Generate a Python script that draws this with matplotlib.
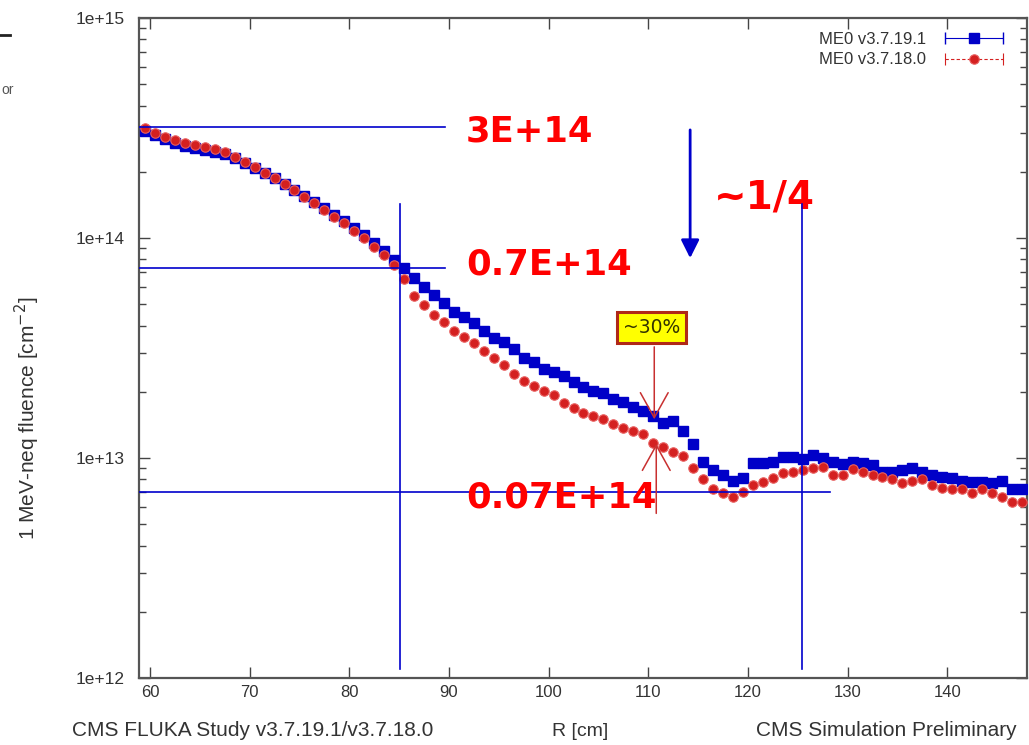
import numpy as np
import matplotlib.pyplot as plt
from matplotlib.ticker import LogLocator, NullFormatter, FixedLocator
from matplotlib.legend_handler import HandlerErrorbar
from matplotlib.container import ErrorbarContainer

plt.rcParams['font.family'] = ['Liberation Sans', 'DejaVu Sans']

# R bin centres [cm]
r_cm = np.arange(59.5, 148.0, 1.0)

# fluence in units of 1e13 cm^-2
me0_v19 = [30.6, 29.4, 28.2, 27.0, 26.2, 25.7, 25.1, 24.6, 24.1, 23.1,
           21.9, 20.8, 19.7, 18.7, 17.6, 16.5, 15.5, 14.6, 13.7, 12.7,
           11.9, 11.1, 10.3, 9.49, 8.73, 7.94, 7.30, 6.58, 5.99, 5.51,
           5.07, 4.61, 4.37, 4.11, 3.78, 3.51, 3.37, 3.13, 2.85, 2.73,
           2.54, 2.46, 2.36, 2.21, 2.10, 2.02, 1.97, 1.85, 1.80, 1.71,
           1.64, 1.55, 1.44, 1.47, 1.33, 1.16, 0.96, 0.88, 0.84, 0.79,
           0.81, 0.95, 0.95, 0.96, 1.01, 1.01, 0.99, 1.03, 1.00, 0.96,
           0.94, 0.96, 0.95, 0.93, 0.86, 0.86, 0.88, 0.90, 0.86, 0.84,
           0.82, 0.81, 0.79, 0.78, 0.78, 0.77, 0.79, 0.72, 0.72]

me0_v18 = [31.6, 30.0, 28.8, 27.9, 27.0, 26.5, 25.9, 25.4, 24.6, 23.3,
           22.2, 21.0, 19.7, 18.7, 17.6, 16.5, 15.4, 14.4, 13.4, 12.5,
           11.7, 10.8, 10.0, 9.10, 8.37, 7.54, 6.51, 5.45, 4.96, 4.47,
           4.15, 3.78, 3.55, 3.33, 3.06, 2.85, 2.65, 2.41, 2.24, 2.12,
           2.02, 1.93, 1.78, 1.69, 1.60, 1.55, 1.50, 1.43, 1.37, 1.33,
           1.29, 1.17, 1.12, 1.06, 1.02, 0.90, 0.80, 0.72, 0.69, 0.665,
           0.70, 0.75, 0.78, 0.81, 0.855, 0.86, 0.88, 0.90, 0.91, 0.84,
           0.84, 0.89, 0.86, 0.84, 0.82, 0.80, 0.77, 0.79, 0.80, 0.75,
           0.73, 0.72, 0.72, 0.69, 0.72, 0.69, 0.665, 0.63, 0.63]

labels = ['ME0 v3.7.19.1', 'ME0 v3.7.18.0']
bin_half = 0.5

y19 = np.array(me0_v19) * 1e13
y18 = np.array(me0_v18) * 1e13

blue = '#0000c8'
red = '#d42020'
anno_red = '#ff0000'
grey = '#333333'

fig = plt.figure(figsize=(10.29, 7.45), dpi=100)
ax = fig.add_axes([139 / 1029, 1 - 678 / 745, 888 / 1029, 660 / 745])

# gnuplot-style points with x error bars (bars hidden on the plot, kept for legend)
h1 = ax.errorbar(r_cm, y19, xerr=bin_half, fmt='s', ms=6.5, color=blue, mec=blue,
                 ecolor=blue, elinewidth=0.8, capsize=4, label=labels[0], zorder=3)
h2 = ax.errorbar(r_cm, y18, xerr=bin_half, fmt='o', ms=6.8, color=red, mec='#e86060',
                 mew=0.8, ecolor=red, elinewidth=0.8, capsize=4, label=labels[1], zorder=4)
h2[2][0].set_linestyle((0, (3, 2)))

leg = ax.legend(handles=[h1, h2], loc='upper right', frameon=False, markerfirst=False,
                fontsize=12, handlelength=3.7, borderaxespad=0.3, labelspacing=0.35,
                handletextpad=1.0, bbox_to_anchor=(0.988, 0.997),
                handler_map={ErrorbarContainer: HandlerErrorbar(xerr_size=1.75)})
for t in leg.get_texts():
    t.set_color(grey)

for h in (h1, h2):
    for c in h[1]:
        c.set_visible(False)
    for c in h[2]:
        c.set_visible(False)

ax.set_yscale('log')
ax.set_xlim(58.9, 148.0)
ax.set_ylim(1e12, 1e15)

ax.xaxis.set_major_locator(FixedLocator(np.arange(60, 141, 10)))
ax.yaxis.set_minor_locator(LogLocator(base=10, subs=np.arange(2, 10), numticks=20))
ax.yaxis.set_minor_formatter(NullFormatter())
ax.set_yticks([1e12, 1e13, 1e14, 1e15])
ax.set_yticklabels(['1e+12', '1e+13', '1e+14', '1e+15'])

ax.tick_params(which='both', direction='in', top=True, right=True, colors='#444444',
               labelcolor=grey, width=1.0)
ax.tick_params(axis='y', labelsize=12.5, pad=10)
ax.tick_params(axis='x', labelsize=12, pad=5)
ax.tick_params(which='major', length=8)
ax.tick_params(which='minor', length=5)
for s in ax.spines.values():
    s.set_color('#555555')
    s.set_linewidth(1.6)

# guide lines
lc = '#0000cc'
ax.plot([58.9, 89.6], [3.2e14, 3.2e14], color=lc, lw=1.2, zorder=5)
ax.plot([58.9, 89.6], [7.3e13, 7.3e13], color=lc, lw=1.2, zorder=5)
ax.plot([58.9, 128.2], [7.0e12, 7.0e12], color=lc, lw=1.2, zorder=5)

# labels
tkw = dict(color=anno_red, fontsize=25.5, fontweight='bold', family=['DejaVu Sans'],
           va='center', ha='left', zorder=6)
ax.text(91.7, 3.05e14, '3E+14', **tkw)
ax.text(91.7, 7.6e13, '0.7E+14', **tkw)
ax.text(91.7, 6.6e12, '0.07E+14', **tkw)
ax.text(116.6, 1.52e14, '~1/4', **dict(tkw, fontsize=28))

ax.plot([85.1, 85.1], [1.1e12, 1.42e14], color=lc, lw=1.2, zorder=7)
ax.plot([125.4, 125.4], [1.1e12, 1.42e14], color=lc, lw=1.2, zorder=7)

# blue arrow
ax.annotate('', xy=(114.2, 8.1e13), xytext=(114.2, 3.1e14),
            arrowprops=dict(arrowstyle='-|>,head_length=1.1,head_width=0.55',
                            color=lc, lw=2.0, mutation_scale=10, shrinkA=0, shrinkB=0))

# ~30% box and arrows
arc = '#c83030'
ax.text(110.35, 3.9e13, '~30%', fontsize=13.5, color='#333300', ha='center', va='center',
        family=['DejaVu Sans'], zorder=8,
        bbox=dict(boxstyle='square,pad=0.32', fc='#ffff00', ec='#b02818', lw=2.2))
ap = dict(arrowstyle='->,head_length=1.8,head_width=1.0', color=arc, lw=1.1,
          mutation_scale=10, shrinkA=0, shrinkB=0)
ax.annotate('', xy=(110.6, 1.5e13), xytext=(110.6, 3.2e13), arrowprops=ap, zorder=8)
ax.annotate('', xy=(110.8, 1.16e13), xytext=(110.8, 5.6e12), arrowprops=ap, zorder=8)

# axis titles and footers
fig.text(27 / 1029, 1 - 418 / 745, '1 MeV-neq fluence [cm$^{-2}$]', rotation=90,
         ha='center', va='center', fontsize=15, color=grey)
fig.text(580 / 1029, 1 - 731 / 745, 'R [cm]', ha='center', va='center', fontsize=14, color=grey)
fig.text(72 / 1029, 1 - 731 / 745, 'CMS FLUKA Study v3.7.19.1/v3.7.18.0', ha='left',
         va='center', fontsize=15, color=grey)
fig.text(1017 / 1029, 1 - 731 / 745, 'CMS Simulation Preliminary', ha='right',
         va='center', fontsize=15, color=grey)

# cropped remnants at the left edge
fig.add_artist(plt.Line2D([0, 10 / 1029], [1 - 35 / 745, 1 - 35 / 745], color='#222222', lw=2))
fig.text(1 / 1029, 1 - 90 / 745, 'or', ha='left', va='center', fontsize=10, color='#555555')

fig.savefig('out.png', dpi=100)
